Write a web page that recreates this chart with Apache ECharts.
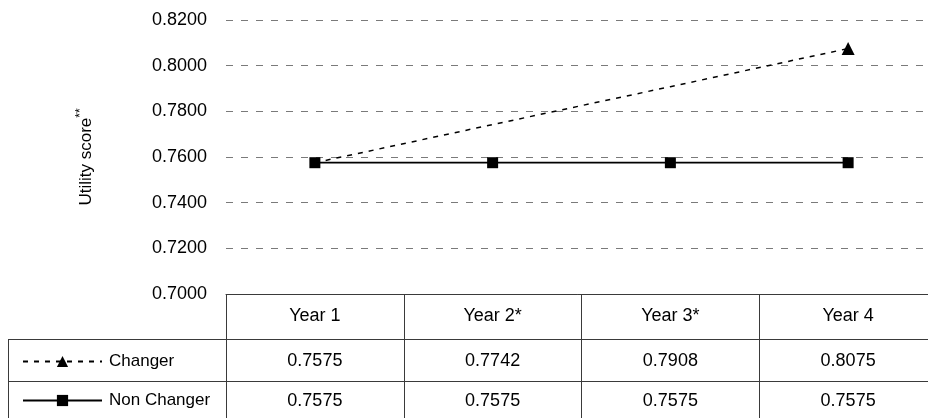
<!DOCTYPE html>
<html>
<head>
<meta charset="utf-8">
<script src="https://cdn.jsdelivr.net/npm/echarts@6/dist/echarts.min.js"></script>
<style>
  html, body { margin: 0; padding: 0; background: #fff; }
  #chart { width: 928px; height: 418px; }
</style>
</head>
<body>
<div id="chart"></div>
<script>
// Utility score by year, changers vs non changers
const categories = ['Year 1', 'Year 2*', 'Year 3*', 'Year 4'];
const changer = [0.7575, 0.7742, 0.7908, 0.8075];
const nonChanger = [0.7575, 0.7575, 0.7575, 0.7575];
const yTicks = { min: 0.70, max: 0.82, interval: 0.02 };

const FONT = '"Liberation Sans", Arial, Helvetica, sans-serif';
const INK = '#000';
const RULE = '#3a3a3a';

const fmt = v => v.toFixed(4);

// Value rows of the data table underneath the plot
function tableRowAxis(values, offset) {
  return {
    type: 'category',
    position: 'bottom',
    offset: offset,
    data: values.map(fmt),
    boundaryGap: true,
    axisLine: { show: false },
    axisTick: { show: false },
    axisLabel: { margin: 13, fontSize: 18, color: INK, fontFamily: FONT, interval: 0 }
  };
}

const chart = echarts.init(document.getElementById('chart'), null, { renderer: 'canvas' });

const lastIdx = changer.length - 1;

chart.setOption({
  animation: false,
  backgroundColor: '#fff',
  textStyle: { fontFamily: FONT },
  // the last table column runs past the right edge of the page
  grid: { left: 226, top: 20, right: -9, height: 274, containLabel: false, outerBoundsMode: 'none' },
  legend: {
    orient: 'vertical',
    left: 17,
    top: 348,
    itemWidth: 79,
    itemHeight: 14,
    itemGap: 22,
    textStyle: { fontSize: 17, color: INK, fontFamily: FONT, padding: [0, 0, 0, 2] },
    data: ['Changer', 'Non Changer']
  },
  xAxis: [
    {
      type: 'category',
      position: 'bottom',
      data: categories,
      boundaryGap: true,
      axisLine: { show: true, lineStyle: { color: RULE, width: 1 } },
      axisTick: { show: true, interval: 0, length: 130, lineStyle: { color: RULE, width: 1 } },
      axisLabel: { margin: 13, fontSize: 18, color: INK, fontFamily: FONT, interval: 0 }
    },
    tableRowAxis(changer, 45),
    tableRowAxis(nonChanger, 85)
  ],
  yAxis: {
    type: 'value',
    min: yTicks.min,
    max: yTicks.max,
    interval: yTicks.interval,
    axisLine: { show: false },
    axisTick: { show: false },
    splitLine: { show: true, lineStyle: { color: '#7a7a7a', width: 1, type: [7, 8] } },
    axisLabel: { margin: 19, fontSize: 18, color: INK, fontFamily: FONT, formatter: v => fmt(v) },
    name: 'Utility score{s|**}',
    nameLocation: 'middle',
    nameGap: 129,
    nameRotate: 90,
    nameTextStyle: {
      fontSize: 17, color: INK, fontFamily: FONT, lineHeight: 22,
      rich: { s: { fontSize: 12, lineHeight: 12, verticalAlign: 'top', color: INK, fontFamily: FONT } }
    }
  },
  series: [
    {
      name: 'Changer',
      type: 'line',
      data: changer,
      symbol: 'triangle',
      symbolSize: (val, p) => (p.dataIndex === lastIdx ? 13 : 0),
      itemStyle: { color: '#000' },
      lineStyle: { color: '#000', width: 1.5, type: [5, 6] },
      z: 3
    },
    {
      name: 'Non Changer',
      type: 'line',
      data: nonChanger,
      symbol: 'rect',
      symbolSize: 11,
      itemStyle: { color: '#000' },
      lineStyle: { color: '#000', width: 1.8, type: 'solid' },
      z: 4
    }
  ],
  graphic: [
    // horizontal rules of the table, including the row-header column
    { type: 'line', shape: { x1: 8, y1: 339.5, x2: 928, y2: 339.5 }, style: { stroke: RULE, lineWidth: 1 }, silent: true },
    { type: 'line', shape: { x1: 8, y1: 381.5, x2: 928, y2: 381.5 }, style: { stroke: RULE, lineWidth: 1 }, silent: true },
    { type: 'line', shape: { x1: 8.5, y1: 339, x2: 8.5, y2: 418 }, style: { stroke: RULE, lineWidth: 1 }, silent: true }
  ]
});
</script>
</body>
</html>
